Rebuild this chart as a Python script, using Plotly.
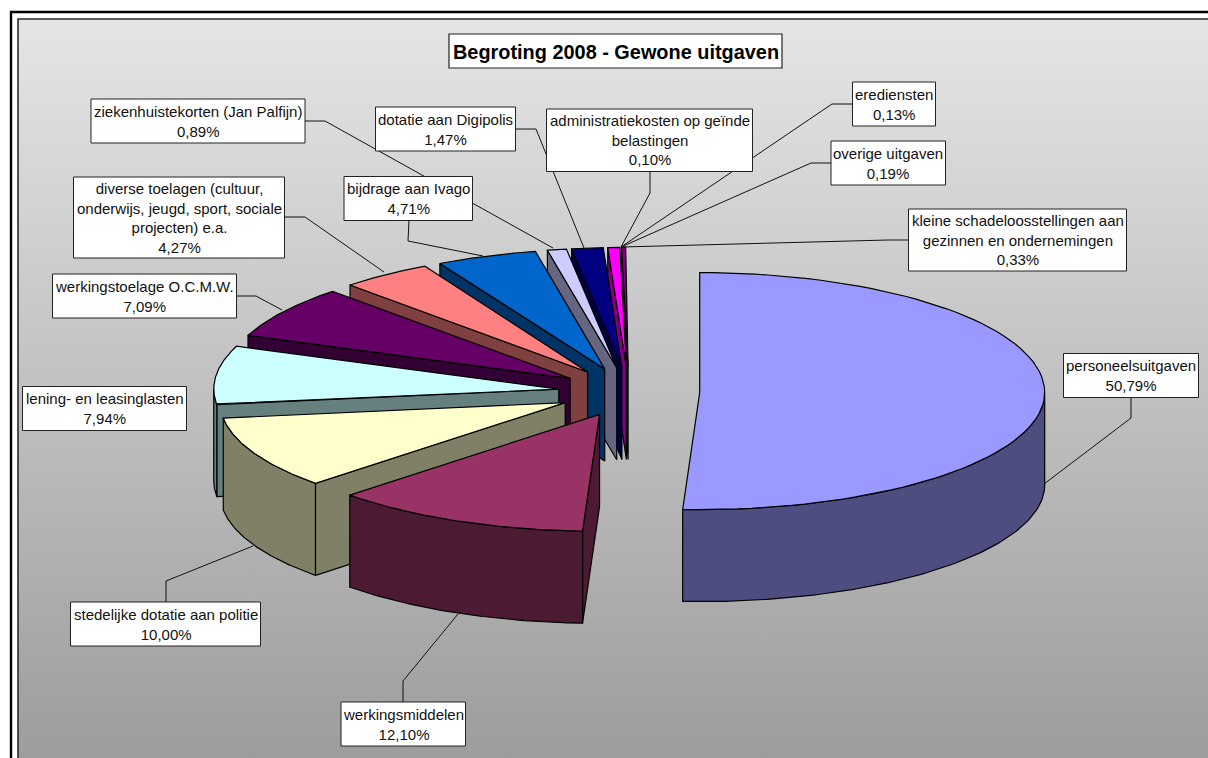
import math
import plotly.graph_objects as go

# ---- data -------------------------------------------------------------
title = "Begroting 2008 - Gewone uitgaven"
categories = [
    "personeelsuitgaven", "werkingsmiddelen", "stedelijke dotatie aan politie",
    "lening- en leasinglasten", "werkingstoelage O.C.M.W.",
    "diverse toelagen (cultuur,<br>onderwijs, jeugd, sport, sociale<br>projecten) e.a.",
    "bijdrage aan Ivago", "ziekenhuistekorten (Jan Palfijn)", "dotatie aan Digipolis",
    "administratiekosten op geïnde<br>belastingen", "erediensten",
    "kleine schadeloosstellingen aan<br>gezinnen en ondernemingen", "overige uitgaven",
]
values = [50.79, 12.10, 10.00, 7.94, 7.09, 4.27, 4.71, 0.89, 1.47, 0.10, 0.13, 0.33, 0.19]
# the three smallest magenta items read as one wedge in the picture
wedges = [[0], [1], [2], [3], [4], [5], [6], [7], [8], [9, 10, 11], [12]]
top_colors = ["#9999FF", "#993366", "#FFFFCC", "#CCFFFF", "#660066", "#FF8080",
              "#0066CC", "#CCCCFF", "#000080", "#FF00FF", "#800080"]
wall_colors = ["#4D4D80", "#4D1A33", "#808066", "#668080", "#330033", "#804040",
               "#003366", "#666680", "#000040", "#800080", "#400040"]

# ---- layout constants (pixels) ----------------------------------------
W, H = 1208, 758
CX, CY, A, B_BACK, B_FRONT, DEPTH, EXPLODE = 629, 392, 345, 120, 117, 92, 0.205
BACK_SKEW_FROM, BACK_SKEW = 330, -0.4  # perspective: the back wedges sit slightly further left

# x0, y0, x1, y1 of the label boxes, in category order
boxes = [
    (1063.5, 353.5, 1198.5, 397.5), (341, 702, 465.5, 746), (70.5, 602, 260.5, 646),
    (22.5, 386.5, 186.5, 430.5), (52.5, 274, 236.5, 318), (73.5, 177, 284.5, 258),
    (344, 176.5, 472.5, 220.5), (91, 99, 305, 143), (375.5, 107, 515.5, 151),
    (546.5, 109, 752.5, 171.5), (852.5, 82, 935.5, 126), (908.5, 209, 1126.5, 271),
    (831, 141, 945.5, 185),
]
leaders = [
    [(1131, 397), (1131, 418), (1044, 484)], [(403, 702), (403, 681), (458, 614)],
    [(166, 602), (166, 581), (253, 546)], None,
    [(236, 296), (256, 296), (282, 310)], [(284, 217), (305, 217), (384, 272)],
    [(409, 220), (408, 241), (483, 256)], [(305, 121), (325, 121), (553, 248)],
    [(515, 129), (536, 129), (584, 248)], [(650, 171), (650, 193), (621, 247)],
    [(852, 104), (832, 104), (621, 247)], [(908, 240), (888, 240), (622, 247)],
    [(831, 163), (811, 163), (621, 247)],
]

fig = go.Figure()

# gradient chart background
fig.add_trace(go.Scatter(
    x=[18, W + 5, W + 5, 18, 18], y=[19, 19, H + 5, H + 5, 19], mode="lines", fill="toself",
    line=dict(width=0), hoverinfo="skip", showlegend=False,
    fillgradient=dict(type="vertical", start=19, stop=H + 5,
                      colorscale=[[0, "#E5E5E5"], [1, "#9C9C9C"]]),
))

# leader lines
for pts in leaders:
    if pts:
        fig.add_trace(go.Scatter(x=[p[0] for p in pts], y=[p[1] for p in pts], mode="lines",
                                 line=dict(color="#111111", width=1), hoverinfo="skip", showlegend=False))


def rim(ax, ay, deg):
    t = math.radians(deg)
    c = math.cos(t)
    return ax + A * math.sin(t), ay - (B_BACK if c > 0 else B_FRONT) * c


def face(xs, ys, color):
    fig.add_trace(go.Scatter(x=xs + xs[:1], y=ys + ys[:1], mode="lines", fill="toself",
                             fillcolor=color, line=dict(color="#000000", width=1.2),
                             hoverinfo="skip", showlegend=False))


def arc(start, end, n=80):
    return [start + (end - start) * i / n for i in range(n + 1)]


total = sum(values)
spans = []
cum = 0.0
for members in wedges:
    size = sum(values[m] for m in members) / total * 360
    skew = BACK_SKEW if cum > BACK_SKEW_FROM else 0
    spans.append((cum + skew, cum + size + skew))
    cum += size

# painter's order: back wedges first, biggest last
for i in range(len(wedges) - 1, -1, -1):
    start, end = spans[i]
    mid = math.radians((start + end) / 2)
    ax = CX + EXPLODE * A * math.sin(mid)
    ay = CY - EXPLODE * B_BACK * math.cos(mid)
    # radial walls that face the viewer
    if math.sin(math.radians(start)) < -1e-6:
        rx, ry = rim(ax, ay, start)
        face([ax, rx, rx, ax], [ay, ry, ry + DEPTH, ay + DEPTH], wall_colors[i])
    if math.sin(math.radians(end)) > 1e-6:
        rx, ry = rim(ax, ay, end)
        face([ax, rx, rx, ax], [ay, ry, ry + DEPTH, ay + DEPTH], wall_colors[i])
    # outer wall
    lo, hi = max(start, 90), min(end, 270)
    if hi > lo:
        pts = [rim(ax, ay, d) for d in arc(lo, hi)]
        face([p[0] for p in pts] + [p[0] for p in reversed(pts)],
             [p[1] for p in pts] + [p[1] + DEPTH for p in reversed(pts)], wall_colors[i])
    # top
    pts = [rim(ax, ay, d) for d in arc(start, end)]
    face([ax] + [p[0] for p in pts], [ay] + [p[1] for p in pts], top_colors[i])

# frame, boxes, texts
shapes = [
    dict(type="rect", x0=11, y0=12, x1=W + 20, y1=H + 20, line=dict(color="#000000", width=2.4)),
    dict(type="rect", x0=18, y0=19, x1=W + 20, y1=H + 20, line=dict(color="#2A2A2A", width=1.6)),
    dict(type="rect", x0=449, y0=34, x1=782, y1=68, fillcolor="#FFFFFF", line=dict(color="#222222", width=1.2)),
]
annotations = [dict(x=615.5, y=52, text=f"<b>{title}</b>", showarrow=False, xanchor="center", yanchor="middle",
                    font=dict(family="Liberation Sans, Arial", size=19.9, color="#000000"))]
for cat, val, box in zip(categories, values, boxes):
    x0, y0, x1, y1 = box
    shapes.append(dict(type="rect", x0=x0, y0=y0, x1=x1, y1=y1, fillcolor="#FFFFFF",
                       line=dict(color="#222222", width=1)))
    pct = f"{val:.2f}".replace(".", ",") + "%"
    annotations.append(dict(x=(x0 + x1) / 2, y=(y0 + y1) / 2, text=f"{cat}<br>{pct}", showarrow=False,
                            xanchor="center", yanchor="middle", align="center",
                            font=dict(family="Liberation Sans, Arial", size=15, color="#111111")))
for s in shapes:
    s["layer"] = "above"

fig.update_layout(
    width=W, height=H, margin=dict(l=0, r=0, t=0, b=0), showlegend=False,
    paper_bgcolor="#FFFFFF", plot_bgcolor="#FFFFFF",
    xaxis=dict(range=[0, W], visible=False, fixedrange=True),
    yaxis=dict(range=[H, 0], visible=False, fixedrange=True),
    shapes=shapes, annotations=annotations,
)
fig.write_html("out.html", config={"displayModeBar": False},
               post_script="document.body.style.margin='0';document.documentElement.style.overflow='hidden';")
